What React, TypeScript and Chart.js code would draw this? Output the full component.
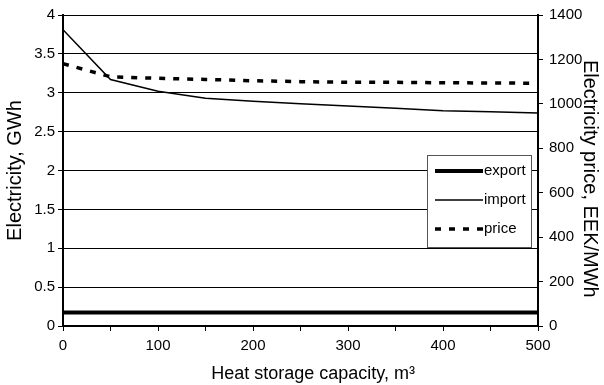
import { useEffect, useRef } from "react";
import { Chart, registerables } from "chart.js";

Chart.register(...registerables);

// Heat storage capacity, m³
const capacity = [0, 50, 100, 150, 200, 250, 300, 350, 400, 450, 500];
// Electricity, GWh
const exportGWh = [0.175, 0.175, 0.175, 0.175, 0.175, 0.175, 0.175, 0.175, 0.175, 0.175, 0.175];
const importGWh = [3.81, 3.17, 3.02, 2.93, 2.89, 2.86, 2.83, 2.8, 2.77, 2.755, 2.74];
// Electricity price, EEK/MWh
const priceEEK = [1181, 1122, 1115, 1110, 1104, 1100, 1097, 1097, 1095, 1094, 1093];

const seriesLabels = ["export", "import", "price"];

const FONT_FAMILY = "'Liberation Sans', Arial, sans-serif";

// Boxed legend drawn inside the plot area, one row per dataset
const boxLegend = {
  id: "boxLegend",
  afterDatasetsDraw(chart: any, _args: any, opts: any) {
    const { ctx } = chart;
    const { left, top, width, height, rowOffsets } = opts;
    ctx.save();
    ctx.fillStyle = "#fff";
    ctx.fillRect(left, top, width, height);
    ctx.strokeStyle = "#555";
    ctx.lineWidth = 1;
    ctx.strokeRect(left + 0.5, top + 0.5, width, height);
    ctx.font = `15px ${FONT_FAMILY}`;
    ctx.textBaseline = "middle";
    ctx.textAlign = "left";
    chart.data.datasets.forEach((ds: any, i: number) => {
      const y = top + rowOffsets[i];
      ctx.beginPath();
      ctx.setLineDash(ds.borderDash || []);
      ctx.lineWidth = ds.borderWidth;
      ctx.strokeStyle = ds.borderColor;
      ctx.moveTo(left + 8, y);
      ctx.lineTo(left + 56, y);
      ctx.stroke();
      ctx.setLineDash([]);
      ctx.fillStyle = "#000";
      ctx.fillText(ds.label, left + 57, y);
    });
    ctx.restore();
  },
};

export default function App() {
  const canvasRef = useRef<HTMLCanvasElement | null>(null);

  useEffect(() => {
    document.body.style.margin = "0";
    const canvas = canvasRef.current;
    if (!canvas) return;

    const tickFont = { family: FONT_FAMILY, size: 15 };
    const titleFont = { family: FONT_FAMILY, size: 18 };
    const sideTitleFont = { family: FONT_FAMILY, size: 20 };
    const plain = (v: any) => String(Number(v));

    const chart = new Chart(canvas, {
      type: "line",
      data: {
        datasets: [
          {
            label: seriesLabels[0],
            data: capacity.map((x, i) => ({ x, y: exportGWh[i] })),
            borderColor: "#000",
            borderWidth: 4,
            pointRadius: 0,
            yAxisID: "y",
          },
          {
            label: seriesLabels[1],
            data: capacity.map((x, i) => ({ x, y: importGWh[i] })),
            borderColor: "#000",
            borderWidth: 1.5,
            pointRadius: 0,
            yAxisID: "y",
          },
          {
            label: seriesLabels[2],
            data: capacity.map((x, i) => ({ x, y: priceEEK[i] })),
            borderColor: "#000",
            borderWidth: 3.5,
            borderDash: [6, 8],
            pointRadius: 0,
            yAxisID: "y1",
          },
        ],
      },
      options: {
        responsive: false,
        animation: false,
        layout: { padding: { top: 13, left: 0, right: 0, bottom: 0 } },
        plugins: {
          legend: { display: false },
          tooltip: { enabled: false },
          boxLegend: {
            left: 427,
            top: 155,
            width: 104,
            height: 92,
            rowOffsets: [16, 45, 74],
          },
        } as any,
        scales: {
          x: {
            type: "linear",
            min: 0,
            max: 500,
            ticks: {
              stepSize: 50,
              autoSkip: false,
              maxRotation: 0,
              color: "#000",
              font: tickFont,
              padding: 6,
              callback: (v: any) => (Number(v) % 100 === 0 ? String(v) : ""),
            },
            grid: { drawOnChartArea: false, drawTicks: true, tickLength: 5, color: "#000" },
            border: { display: true, color: "#000", width: 2 },
            title: {
              display: true,
              // leading spaces nudge the centred title slightly to the right
              text: "     Heat storage capacity, m³",
              color: "#000",
              font: titleFont,
              padding: { top: 3, bottom: 0 },
            },
            afterFit: (s: any) => {
              s.height = 59;
            },
          },
          y: {
            position: "left",
            min: 0,
            max: 4,
            ticks: { stepSize: 0.5, color: "#000", font: tickFont, padding: 3, callback: plain },
            grid: { color: "#000", lineWidth: 1, tickLength: 5 },
            border: { display: true, color: "#000", width: 2 },
            title: {
              display: true,
              text: "Electricity, GWh",
              color: "#000",
              font: sideTitleFont,
              padding: { top: 3, bottom: 0 },
            },
            afterFit: (s: any) => {
              s.width = 63;
            },
          },
          y1: {
            position: "right",
            min: 0,
            max: 1400,
            ticks: { stepSize: 200, color: "#000", font: tickFont, padding: 6, callback: plain },
            grid: { drawOnChartArea: false, color: "#000", tickLength: 5 },
            border: { display: true, color: "#000", width: 2 },
            title: {
              display: true,
              // leading spaces push the rotated title a little lower
              text: "   Electricity price, EEK/MWh",
              color: "#000",
              font: sideTitleFont,
              padding: { top: 2, bottom: 0 },
            },
            afterFit: (s: any) => {
              s.width = 66;
            },
          },
        },
      },
      plugins: [boxLegend],
    });

    return () => chart.destroy();
  }, []);

  return (
    <div style={{ width: 604, height: 385 }}>
      <canvas ref={canvasRef} width={604} height={385} />
    </div>
  );
}
